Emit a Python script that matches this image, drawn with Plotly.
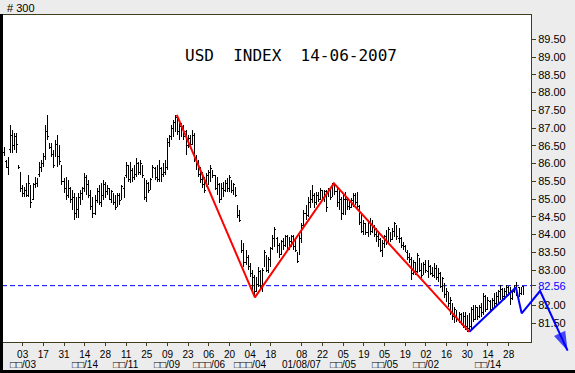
import numpy as np
import pandas as pd
import plotly.graph_objects as go

# ---------------- data ----------------
dates = pd.bdate_range("2006-06-19", periods=253)

highs = [
    86.52, 86.47, 86.10, 86.18, 87.09, 86.95, 86.86, 86.86, 85.96, 85.76,
    85.40, 85.34, 85.45, 85.68, 85.40, 85.45, 85.62, 85.59, 86.04, 86.10,
    86.30, 87.09, 87.37, 86.58, 86.58, 86.38, 86.66, 86.80, 86.52, 85.96,
    85.59, 85.62, 85.54, 85.34, 85.25, 85.17, 85.06, 85.17, 85.25, 85.34,
    85.73, 85.68, 85.54, 85.25, 85.06, 85.11, 85.31, 85.40, 85.45, 85.54,
    85.48, 85.40, 85.31, 85.25, 85.17, 85.11, 85.17, 85.17, 85.40, 85.62,
    86.04, 85.96, 86.04, 85.87, 85.96, 86.16, 86.04, 86.10, 85.96, 85.59,
    85.54, 85.48, 85.59, 85.96, 85.90, 85.96, 86.10, 85.90, 86.01, 86.10,
    86.72, 86.80, 87.09, 87.23, 87.37, 87.28, 87.18, 87.14, 87.09, 86.95,
    86.80, 86.80, 86.95, 86.86, 86.24, 86.10, 85.90, 85.76, 85.62, 85.73,
    85.82, 85.96, 85.82, 85.68, 85.62, 85.45, 85.45, 85.48, 85.54, 85.59,
    85.68, 85.54, 85.45, 85.34, 84.83, 84.69, 83.85, 83.76, 83.56, 83.42,
    83.20, 83.00, 82.86, 82.80, 83.09, 83.00, 83.06, 83.56, 83.42, 83.37,
    83.65, 83.99, 84.21, 83.93, 83.76, 83.85, 83.90, 83.99, 83.99, 83.93,
    83.99, 83.99, 83.85, 83.51, 83.99, 84.33, 84.69, 84.83, 85.06, 85.25,
    85.40, 85.17, 85.20, 85.20, 85.31, 85.25, 85.25, 85.25, 85.31, 85.31,
    85.45, 85.45, 85.34, 85.25, 85.06, 85.11, 85.20, 85.06, 84.97, 85.03,
    85.17, 85.17, 85.20, 84.83, 84.61, 84.41, 84.33, 84.41, 84.47, 84.41,
    84.27, 84.18, 84.07, 83.90, 83.85, 83.99, 84.13, 84.21, 84.07, 84.18,
    84.35, 84.27, 84.18, 83.93, 83.79, 83.70, 83.56, 83.48, 83.37, 83.28,
    83.23, 83.48, 83.34, 83.20, 83.23, 83.28, 83.28, 83.14, 83.09, 83.20,
    83.14, 83.06, 82.94, 82.80, 82.63, 82.49, 82.38, 82.24, 82.07, 81.96,
    81.87, 81.82, 81.79, 81.82, 81.82, 81.73, 81.79, 81.96, 82.02, 82.02,
    81.96, 82.02, 82.07, 82.35, 82.30, 82.24, 82.16, 82.21, 82.35, 82.38,
    82.44, 82.58, 82.49, 82.49, 82.58, 82.55, 82.52, 82.44, 82.58, 82.66,
    82.52, 82.52, 82.55,
]
lows = [
    86.24, 86.21, 85.87, 85.68, 86.30, 86.30, 86.38, 86.30, 85.85, 85.20,
    85.06, 85.06, 85.06, 85.06, 84.75, 84.97, 85.31, 85.34, 85.62, 85.76,
    85.90, 86.10, 86.66, 86.41, 86.18, 85.87, 86.18, 85.90, 85.96, 85.40,
    85.17, 84.97, 85.03, 84.89, 84.69, 84.41, 84.47, 84.47, 84.83, 84.97,
    85.20, 85.11, 85.03, 84.69, 84.47, 84.55, 84.89, 84.83, 84.78, 84.97,
    85.03, 85.11, 84.97, 84.89, 84.83, 84.69, 84.78, 84.83, 84.97, 85.03,
    85.59, 85.48, 85.45, 85.48, 85.54, 85.62, 85.68, 85.68, 85.59, 84.97,
    84.92, 85.17, 85.25, 85.59, 85.54, 85.48, 85.48, 85.48, 85.62, 85.68,
    85.82, 86.47, 86.66, 86.75, 86.89, 86.80, 86.66, 86.75, 86.66, 86.24,
    86.44, 86.44, 86.52, 86.04, 85.82, 85.62, 85.45, 85.31, 85.17, 85.34,
    85.40, 85.48, 85.59, 85.25, 85.11, 84.89, 84.97, 85.06, 85.20, 85.20,
    85.20, 85.17, 85.11, 85.06, 84.47, 84.35, 83.48, 83.09, 83.14, 83.00,
    82.80, 82.44, 82.24, 82.38, 82.52, 82.49, 82.38, 83.09, 82.94, 82.92,
    83.09, 83.56, 83.65, 83.48, 83.34, 83.42, 83.56, 83.65, 83.56, 83.56,
    83.65, 83.56, 83.51, 83.20, 83.42, 83.76, 84.18, 84.41, 84.49, 84.75,
    84.89, 84.75, 84.83, 84.92, 84.97, 84.97, 84.92, 84.64, 85.06, 84.97,
    85.06, 85.11, 84.78, 84.69, 84.41, 84.55, 84.55, 84.69, 84.69, 84.75,
    84.78, 84.83, 84.69, 84.27, 84.04, 83.99, 83.99, 83.93, 83.99, 84.04,
    83.93, 83.79, 83.65, 83.51, 83.37, 83.62, 83.70, 83.76, 83.79, 83.85,
    83.93, 83.85, 83.76, 83.62, 83.56, 83.51, 83.28, 83.20, 82.72, 82.86,
    82.86, 82.92, 82.94, 82.78, 82.86, 82.92, 82.78, 82.86, 82.80, 82.78,
    82.72, 82.66, 82.49, 82.38, 82.21, 82.10, 81.96, 81.73, 81.59, 81.51,
    81.54, 81.51, 81.45, 81.37, 81.31, 81.26, 81.31, 81.31, 81.54, 81.59,
    81.59, 81.65, 81.68, 81.73, 81.82, 81.87, 81.82, 81.87, 81.96, 82.02,
    82.07, 82.16, 82.16, 82.16, 82.24, 82.27, 82.02, 82.16, 82.35, 82.27,
    82.24, 82.30, 82.32,
]
opens = [
    86.45, 86.30, 86.05, 85.90, 86.40, 86.80, 86.50, 86.75, 85.92, 85.70,
    85.30, 85.15, 85.20, 85.15, 85.35, 85.00, 85.40, 85.45, 85.70, 85.90,
    86.00, 86.20, 86.90, 86.55, 86.45, 86.30, 86.25, 86.50, 86.40, 85.90,
    85.50, 85.30, 85.10, 85.30, 85.00, 85.05, 84.60, 84.70, 84.90, 85.05,
    85.30, 85.55, 85.45, 85.10, 84.80, 84.60, 84.95, 85.20, 84.90, 85.10,
    85.40, 85.20, 85.30, 85.05, 85.15, 84.95, 84.80, 85.05, 85.00, 85.30,
    85.65, 85.95, 85.55, 85.80, 85.60, 85.70, 86.00, 85.75, 85.90, 85.55,
    85.10, 85.40, 85.30, 85.65, 85.85, 85.60, 85.55, 85.85, 85.70, 85.75,
    85.90, 86.60, 86.70, 86.90, 87.00, 87.25, 86.90, 86.80, 87.00, 86.90,
    86.50, 86.70, 86.55, 86.80, 86.15, 86.00, 85.80, 85.65, 85.55, 85.40,
    85.50, 85.75, 85.80, 85.65, 85.30, 85.40, 85.00, 85.30, 85.25, 85.45,
    85.30, 85.50, 85.20, 85.30, 84.80, 84.50, 83.80, 83.55, 83.20, 83.35,
    83.10, 82.90, 82.80, 82.40, 82.60, 82.95, 82.55, 83.15, 83.40, 83.00,
    83.20, 83.60, 83.80, 83.90, 83.70, 83.45, 83.80, 83.70, 83.95, 83.60,
    83.80, 83.95, 83.60, 83.45, 83.45, 83.85, 84.25, 84.60, 84.55, 84.90,
    85.00, 85.10, 84.90, 85.10, 85.00, 85.20, 85.05, 85.20, 85.10, 85.25,
    85.10, 85.40, 85.20, 84.90, 85.00, 84.60, 85.00, 85.00, 84.80, 84.75,
    84.85, 85.10, 84.90, 84.80, 84.40, 84.10, 84.30, 84.05, 84.35, 84.10,
    84.20, 84.00, 83.95, 83.85, 83.55, 83.70, 83.90, 83.80, 84.00, 83.90,
    84.00, 84.20, 83.90, 83.90, 83.70, 83.65, 83.50, 83.35, 83.30, 82.90,
    83.15, 83.00, 83.30, 83.00, 82.90, 83.20, 82.95, 83.10, 82.90, 82.85,
    83.05, 82.80, 82.90, 82.55, 82.60, 82.30, 82.35, 82.05, 82.00, 81.65,
    81.80, 81.60, 81.75, 81.45, 81.70, 81.40, 81.35, 81.40, 81.90, 81.65,
    81.90, 81.70, 81.95, 81.80, 82.25, 81.95, 82.10, 81.90, 82.15, 82.05,
    82.25, 82.40, 82.45, 82.25, 82.35, 82.50, 82.45, 82.20, 82.40, 82.45,
    82.50, 82.35, 82.55,
]
closes = [
    86.30, 86.25, 85.95, 86.10, 86.90, 86.45, 86.70, 86.55, 85.88, 85.30,
    85.15, 85.25, 85.10, 85.45, 84.90, 85.35, 85.50, 85.55, 85.95, 86.00,
    86.25, 86.95, 86.75, 86.45, 86.25, 85.95, 86.55, 86.20, 86.05, 85.50,
    85.25, 85.05, 85.40, 84.95, 84.80, 84.50, 84.90, 85.05, 85.15, 85.30,
    85.60, 85.40, 85.10, 84.80, 84.60, 85.00, 85.20, 84.95, 85.35, 85.45,
    85.15, 85.30, 85.00, 85.20, 84.90, 84.75, 85.10, 84.95, 85.35, 85.55,
    85.95, 85.60, 85.90, 85.55, 85.90, 86.05, 85.75, 86.00, 85.65, 85.05,
    85.45, 85.25, 85.55, 85.90, 85.60, 85.90, 86.00, 85.55, 85.95, 86.05,
    86.65, 86.75, 87.00, 87.15, 87.30, 86.90, 87.05, 87.05, 86.75, 86.35,
    86.75, 86.50, 86.85, 86.10, 85.90, 85.70, 85.55, 85.40, 85.25, 85.65,
    85.75, 85.85, 85.65, 85.30, 85.55, 85.05, 85.35, 85.20, 85.45, 85.30,
    85.60, 85.25, 85.40, 85.10, 84.55, 84.40, 83.55, 83.20, 83.45, 83.05,
    82.85, 82.50, 82.30, 82.70, 83.00, 82.55, 83.00, 83.50, 83.00, 83.30,
    83.60, 83.90, 84.15, 83.55, 83.40, 83.80, 83.65, 83.95, 83.60, 83.85,
    83.95, 83.65, 83.55, 83.25, 83.90, 84.25, 84.60, 84.50, 84.95, 85.20,
    85.30, 84.85, 85.15, 85.00, 85.25, 85.05, 85.20, 84.75, 85.25, 85.05,
    85.40, 85.20, 84.85, 85.10, 84.50, 85.05, 84.65, 84.75, 84.90, 84.95,
    85.10, 84.90, 84.80, 84.35, 84.10, 84.30, 84.05, 84.35, 84.10, 84.30,
    84.00, 83.90, 83.75, 83.55, 83.75, 83.95, 83.80, 84.15, 83.85, 84.10,
    84.30, 83.95, 84.10, 83.70, 83.65, 83.55, 83.35, 83.25, 82.90, 83.20,
    82.95, 83.40, 83.00, 82.85, 83.15, 83.00, 83.20, 82.90, 83.05, 83.10,
    82.80, 82.95, 82.55, 82.75, 82.30, 82.40, 82.05, 82.15, 81.70, 81.90,
    81.60, 81.75, 81.50, 81.70, 81.40, 81.35, 81.70, 81.90, 81.60, 81.95,
    81.70, 81.95, 81.80, 82.25, 81.90, 82.15, 81.90, 82.15, 82.05, 82.30,
    82.40, 82.50, 82.25, 82.40, 82.50, 82.35, 82.20, 82.40, 82.50, 82.35,
    82.30, 82.45, 82.32,
]

# trend lines (bar-index position, price)
red_pos = [84.5, 122.3, 160.5, 226.0]
red_val = [87.37, 82.23, 85.44, 81.26]
blue_pos = [226.0, 248.5, 251.3, 260.2, 273.5]
blue_val = [81.26, 82.51, 81.78, 82.41, 80.73]

level = 82.56

tick_dates = ["2006-06-19", "2006-07-03", "2006-07-17", "2006-07-31", "2006-08-14",
              "2006-08-28", "2006-09-11", "2006-09-25", "2006-10-09", "2006-10-23",
              "2006-11-06", "2006-11-20", "2006-12-04", "2006-12-18", "2007-01-08",
              "2007-01-22", "2007-02-05", "2007-02-19", "2007-03-05", "2007-03-19",
              "2007-04-02", "2007-04-16", "2007-04-30", "2007-05-14", "2007-05-28"]
tick_days = ["19", "03", "17", "31", "14", "28", "11", "25", "09", "23", "06", "20",
             "04", "18", "08", "22", "05", "19", "05", "19", "02", "16", "30", "14", "28"]
month_dates = ["2006-07-03", "2006-08-14", "2006-09-11", "2006-10-09", "2006-11-06",
               "2006-12-04", "2007-01-08", "2007-02-05", "2007-03-05", "2007-04-02",
               "2007-05-14"]
month_labels = ["□□/03", "□□/14", "□□/11", "□□/09", "□□□/06", "□□□/04",
                "01/08/07", "□□/05", "□□/05", "□□/02", "□□/14"]

y_ticks = [81.5, 82.0, 82.56, 83.0, 83.5, 84.0, 84.5, 85.0, 85.5, 86.0,
           86.5, 87.0, 87.5, 88.0, 88.5, 89.0, 89.5]

# ---------------- figure ----------------
idx = np.arange(len(dates))
date_pos = {d.strftime("%Y-%m-%d"): i for i, d in enumerate(dates)}
tickvals = [date_pos[d] for d in tick_dates]
monthvals = [date_pos[d] for d in month_dates]
ytext = []
for v in y_ticks:
    if abs(v - level) < 1e-6:
        ytext.append('<span style="color:#0000ff">%.2f</span>' % v)
    else:
        ytext.append("%.2f" % v)

W, H = 575, 373
ML, MT = 2, 15
PW, PH = W - ML, H - MT
frame = "#3f3f1f"
fnt = "Liberation Sans, Arial, sans-serif"

x_rng = [0, 255.8]
y_rng = [80.973, 90.185]
x_dom_r = (531 - ML) / PW
y_dom_b = (H - 342) / PH
x2_rng = [0, x_rng[1] * PW / (531 - ML)]
y2_rng = [y_rng[1] - (y_rng[1] - y_rng[0]) * PH / (342 - MT), y_rng[1]]

fig = go.Figure()
fig.add_trace(go.Ohlc(
    x=idx, open=opens, high=highs, low=lows, close=closes,
    increasing=dict(line=dict(color="black", width=1)),
    decreasing=dict(line=dict(color="black", width=1)),
    tickwidth=0.5, hoverinfo="skip", showlegend=False,
    xaxis="x", yaxis="y",
))
fig.add_trace(go.Scatter(
    x=red_pos, y=red_val, mode="lines",
    line=dict(color="#ff0000", width=2), hoverinfo="skip", showlegend=False,
    xaxis="x", yaxis="y",
))
fig.add_trace(go.Scatter(
    x=blue_pos, y=blue_val, mode="lines+markers",
    line=dict(color="#0000ff", width=2),
    marker=dict(symbol="arrow", angleref="previous", color="#0000ff",
                size=[0, 0, 0, 0, 20], line=dict(width=0)),
    hoverinfo="skip", showlegend=False, cliponaxis=False,
    xaxis="x2", yaxis="y2",
))

annotations = [
    dict(text="USD\u00a0\u00a0INDEX\u00a0\u00a014-06-2007", xref="paper", yref="paper",
         x=(290.5 - ML) / PW, y=1 - (55.5 - MT) / PH, xanchor="center", yanchor="middle",
         showarrow=False, font=dict(family="DejaVu Sans Mono, monospace", size=16, color="black")),
    dict(text="# 300", xref="paper", yref="paper",
         x=(5 - ML) / PW, y=1 + (MT - 7.5) / PH, xanchor="left", yanchor="middle",
         showarrow=False, font=dict(family=fnt, size=11, color="black")),
]
for mv, ml in zip(monthvals, month_labels):
    annotations.append(dict(
        text=ml, x=mv, xref="x", y=(H - 364.5) / PH, yref="paper",
        xanchor="center", yanchor="middle", showarrow=False, borderpad=0,
        font=dict(family=fnt, size=10, color="black")))

fig.update_layout(
    width=W, height=H,
    margin=dict(l=ML, r=0, t=MT, b=0, pad=0),
    paper_bgcolor="#ececec",
    plot_bgcolor="rgba(0,0,0,0)",
    showlegend=False,
    xaxis=dict(
        domain=[0, x_dom_r], range=x_rng, anchor="y",
        showline=True, mirror=True, linecolor=frame, linewidth=1,
        showgrid=False, zeroline=False,
        ticks="outside", ticklen=3, tickcolor=frame, tickwidth=1,
        tickmode="array", tickvals=tickvals, ticktext=tick_days, tickangle=0,
        tickfont=dict(family=fnt, size=10, color="black"),
        rangeslider=dict(visible=False), fixedrange=True,
    ),
    yaxis=dict(
        domain=[y_dom_b, 1], range=y_rng, anchor="x", side="right",
        showline=True, mirror=True, linecolor=frame, linewidth=1,
        showgrid=False, zeroline=False,
        ticks="outside", ticklen=4, tickcolor=frame, tickwidth=1,
        tickmode="array", tickvals=y_ticks, ticktext=ytext,
        tickfont=dict(family=fnt, size=11, color="black"),
        fixedrange=True,
    ),
    xaxis2=dict(domain=[0, 1], range=x2_rng, anchor="y2", visible=False, fixedrange=True),
    yaxis2=dict(domain=[0, 1], range=y2_rng, anchor="x2", visible=False, fixedrange=True),
    shapes=[
        dict(type="rect", xref="x domain", yref="y domain", x0=0, x1=1, y0=0, y1=1,
             fillcolor="white", line=dict(width=0), layer="below"),
        dict(type="line", xref="x domain", yref="y", x0=0, x1=1, y0=level, y1=level,
             line=dict(color="#0000ff", width=1, dash="5px,3px"), layer="below"),
        dict(type="rect", xref="paper", yref="paper", x0=-ML / PW, x1=1.0 / PW,
             y0=0, y1=1 + 1.0 / PH, fillcolor="black", line=dict(width=0), layer="above"),
        dict(type="rect", xref="paper", yref="paper", x0=-ML / PW, x1=1,
             y0=0, y1=3.0 / PH, fillcolor="black", line=dict(width=0), layer="above"),
    ],
    annotations=annotations,
)

post = ("document.body.style.margin='0';document.body.style.overflow='hidden';"
        "document.querySelectorAll('g.ohlclayer path, g.trace.ohlc path')"
        ".forEach(function(p){p.style.shapeRendering='crispEdges';});")
fig.write_html("out.html", config={"displayModeBar": False}, post_script=post)
